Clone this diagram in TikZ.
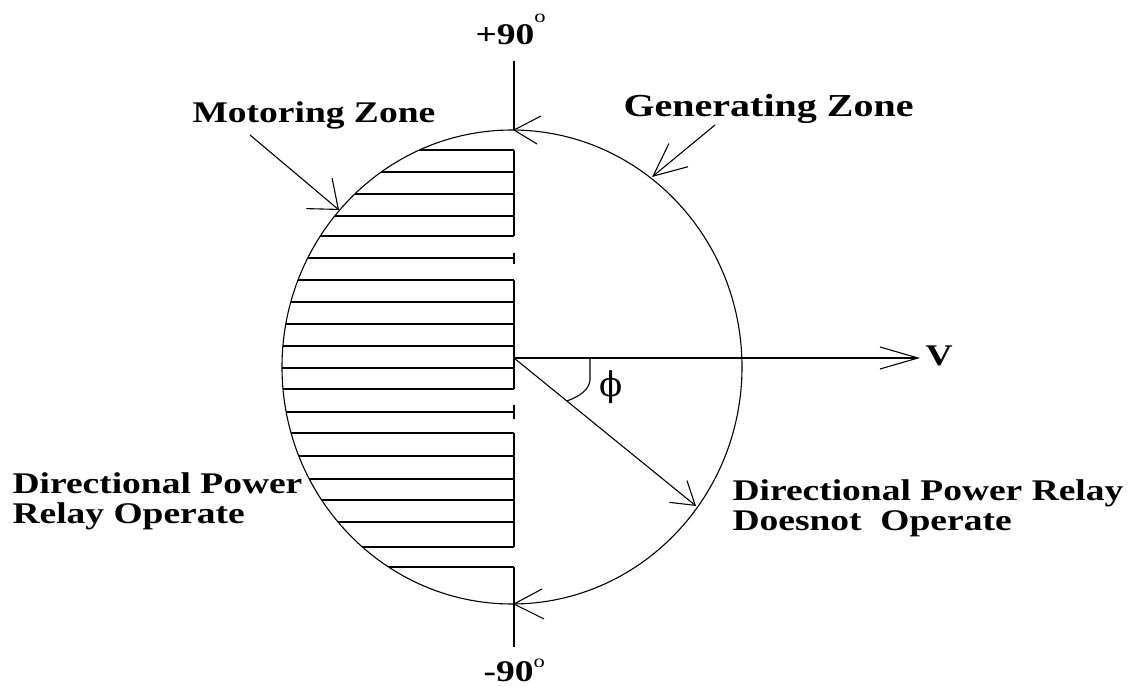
\documentclass[tikz,border=0pt]{standalone}
\usepackage{fontspec}
\setmainfont{Liberation Serif}
\newfontfamily\lbl[FakeStretch=1.25]{Liberation Serif}
\newfontfamily\grk{DejaVu Serif}
\usetikzlibrary{arrows.meta}
\begin{document}
\begin{tikzpicture}[x=1pt,y=-1pt,line width=1.1pt,
  lab/.style={font={\lbl\bfseries\fontsize{30}{30}\selectfont},inner sep=0pt,anchor=base west,align=left},
  genarrow/.style={-{Straight Barb[length=33pt,width=30pt]}},
  motarrow/.style={-{Straight Barb[length=25pt,width=40pt]}},
  phiarrow/.style={-{Straight Barb[length=22pt,width=28pt]}},
  varrow/.style={-{Straight Barb[length=38pt,width=22pt]}}]
\useasboundingbox (0,0) rectangle (1135,687);
% circle
\draw (512,367) ellipse [x radius=230,y radius=237];
% hatching
\begin{scope}
\clip (512,367) ellipse [x radius=230,y radius=237];
\foreach \y in {150,172,194,216,236,258,280,302,324,346,368,389,412,433,456,479,500,522,547,567}
  \draw (270,\y) -- (514,\y);
\end{scope}
% vertical axis pieces
\coordinate (O) at (514,358);
\coordinate (ytop) at (514,61);
\coordinate (ctop) at (514,130);
\coordinate (cbot) at (514,604);
\coordinate (ybot) at (514,647);
\draw (ytop) -- (ctop);
\draw (514,150) -- (514,236);
\draw (514,253) -- (514,264);
\draw (514,280) -- (514,389);
\draw (514,405) -- (514,419);
\draw (514,433) -- (514,547);
\draw (514,567) -- (ybot);
% circle arrows
\draw (ctop) -- ++(27,-14) (ctop) -- ++(23,14);
\draw (cbot) -- ++(28,-15) (cbot) -- ++(30,15);
% labels
\node[lab] (plus) at (475,45) {+90\kern0pt\raisebox{22pt}{\fontsize{18}{18}\selectfont\mdseries o}};
\node[lab] (minus) at (483,681) {-90\kern0pt\raisebox{14pt}{\fontsize{18}{18}\selectfont\mdseries o}};
\node[lab] (mot) at (192,123) {Motoring Zone};
\node[lab,font={\lbl\bfseries\fontsize{32}{32}\selectfont}] (gen) at (623,117) {Generating Zone};
\node[lab] (V) at (925,365) {V};
\node[inner sep=0pt,font={\grk\fontsize{34}{34}\selectfont}] (phi) at (611,387) {ϕ};
\node[lab] (op) at (12,523) {Directional Power\\Relay Operate};
\node[lab] (nop) at (732,530) {Directional Power Relay\\Doesnot\ \ Operate};
% zone arrows
\coordinate (motTail) at (250,135);
\coordinate (motTip) at (339,210);
\coordinate (genTail) at (715,125);
\coordinate (genTip) at (652,177);
\draw[motarrow] (motTail) -- (motTip);
\draw[genarrow] (genTail) -- (genTip);
% vectors
\coordinate (Vend) at (920,358);
\coordinate (Iend) at (696,506);
\draw[varrow] (O) -- (Vend);
\draw[phiarrow] (O) -- (Iend);
% angle mark
\draw (590,358) -- (590,380) .. controls (589,390) and (580,396) .. (567,401);
\end{tikzpicture}
\end{document}
